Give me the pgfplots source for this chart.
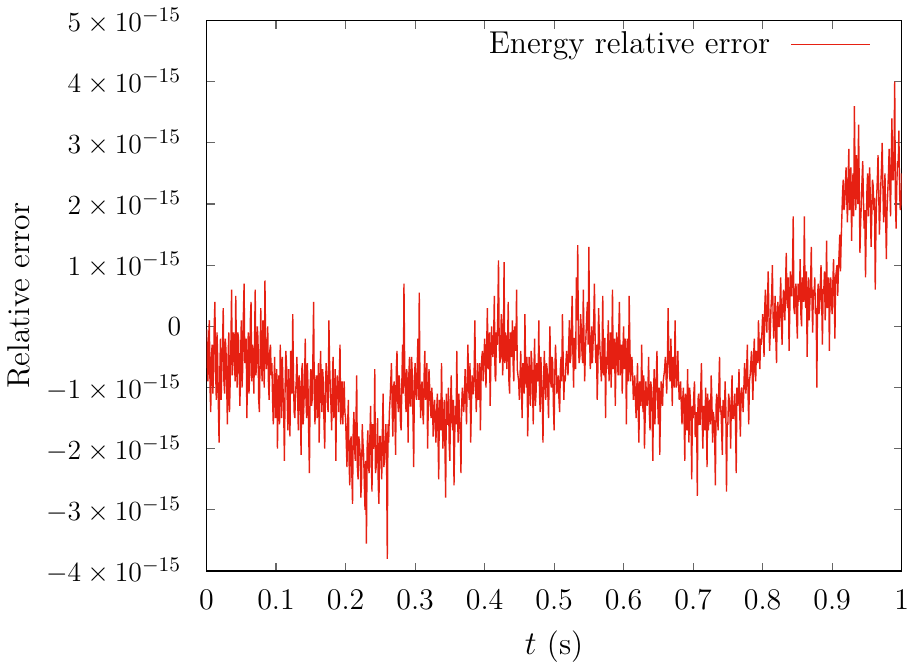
\documentclass[border=0pt]{standalone}
\usepackage{pgfplots}
\usepackage{pgfplotstable}
\pgfplotsset{compat=1.18}
\definecolor{gpred}{RGB}{230,32,18}
\newcommand\lbl{\fontsize{13}{15.6}\selectfont}
\newcommand\txt{\fontsize{13.7}{16.4}\selectfont}

% energy relative error, in units of 1e-15, sampled every 0.001 s
\pgfplotstableread[header=false,row sep=\\]{
-0.05\\ -0.6\\ -0.9\\ -0.2\\ 0.1\\ -1.0\\ -1.4\\ -0.5\\ -0.3\\ -1.1\\ -0.8\\ 0.0\\ 0.4\\ -0.7\\ -1.2\\ -0.1\\ -0.5\\ -1.3\\ -1.9\\ -0.8\\
-0.2\\ -1.2\\ -0.7\\ -0.3\\ 0.3\\ -0.9\\ -1.1\\ -0.2\\ -0.4\\ -1.0\\ -1.6\\ -0.5\\ -0.1\\ -1.4\\ -0.9\\ -0.3\\ 0.6\\ -0.8\\ -0.6\\ -0.1\\
-0.3\\ -0.9\\ 0.5\\ -0.4\\ -1.0\\ -0.1\\ -0.2\\ -0.8\\ -1.3\\ -0.5\\ 0.1\\ -1.0\\ -0.7\\ 0.2\\ 0.7\\ -0.6\\ -0.5\\ -0.2\\ -1.5\\ -0.7\\
-0.1\\ -1.1\\ -0.8\\ 0.1\\ 0.4\\ -0.9\\ -0.3\\ -0.4\\ -1.1\\ -0.3\\ 0.6\\ -0.8\\ -0.6\\ 0.0\\ -0.2\\ -1.2\\ -1.4\\ -0.5\\ 0.3\\ -0.6\\
-0.9\\ 0.1\\ -0.4\\ -1.0\\ 0.75\\ -0.3\\ -0.7\\ -0.5\\ 0.0\\ -0.9\\ -1.2\\ -0.4\\ -0.3\\ -0.8\\
-0.6\\ -1.2\\ -1.6\\ -0.9\\ -0.5\\ -1.5\\ -1.3\\ -0.7\\ -2.0\\ -1.1\\ -0.8\\ -1.6\\ -0.3\\ -0.8\\ -1.5\\ -0.5\\ -1.0\\ -1.4\\ -2.2\\ -1.0\\
-0.4\\ -0.6\\ -1.2\\ -1.7\\ -0.7\\ -1.3\\ -1.8\\ -0.4\\ -0.9\\ -1.1\\ 0.2\\ -0.8\\ -1.4\\ -1.5\\ -1.1\\ -0.9\\
-0.5\\ -1.1\\ -1.7\\ -0.8\\ -0.9\\ -1.4\\ -2.1\\ -0.7\\ -0.6\\ -1.6\\ -1.3\\ -0.9\\ -0.2\\ -1.2\\ -1.5\\ -0.6\\ -1.0\\ -1.8\\ -2.4\\ -1.0\\
-0.7\\ -1.3\\ -1.2\\ -0.5\\ 0.4\\ -1.1\\ -1.6\\ -0.9\\ -0.8\\ -1.5\\ -1.1\\ -0.6\\ -1.9\\ -1.2\\ -0.4\\ -1.0\\ -1.4\\ -0.7\\ -0.9\\ -1.6\\
-2.0\\ -1.1\\ -0.6\\ -0.8\\ -1.3\\ -1.4\\ 0.1\\ -0.6\\ -1.0\\ -1.3\\ -1.7\\ -0.9\\ -0.5\\ -1.5\\ -1.2\\ -0.7\\ -2.2\\ -1.2\\ -0.8\\ -1.0\\
-1.4\\ -0.8\\ -0.3\\ -1.6\\ -1.1\\ -0.9\\ -1.6\\ -1.2\\ -0.9\\ -1.4\\
-1.5\\ -1.9\\ -2.3\\ -1.6\\ -1.2\\ -2.2\\ -2.6\\ -1.9\\ -1.8\\ -2.4\\ -2.9\\ -1.7\\ -1.4\\ -2.0\\ -2.2\\ -1.5\\ -0.8\\ -2.3\\ -2.5\\ -1.8\\
-1.9\\ -2.1\\ -2.8\\ -2.5\\ -1.6\\ -1.9\\ -2.1\\ -2.6\\ -3.0\\ -2.2\\ -3.55\\ -2.0\\ -1.7\\ -2.3\\ -2.4\\ -1.8\\ -1.3\\ -2.2\\ -2.7\\ -1.6\\
-2.0\\ -1.9\\ -0.7\\ -2.4\\ -2.3\\ -2.0\\ -1.5\\ -2.6\\ -2.9\\ -1.8\\ -1.8\\ -2.1\\ -2.5\\ -1.7\\ -1.1\\ -2.3\\ -2.2\\ -1.9\\ -1.6\\ -2.2\\
-3.8\\ -1.6\\ -1.9\\ -1.4\\
-1.2\\ -0.9\\ -0.6\\ -1.3\\ -1.8\\ -1.0\\ -0.9\\ -1.5\\ -2.1\\ -0.7\\ -0.4\\ -1.2\\ -1.4\\ -0.8\\ -1.0\\ -1.6\\ -1.7\\ -0.9\\ -0.3\\ -1.1\\
0.7\\ -0.6\\ -1.1\\ -1.4\\ -0.7\\ -1.0\\ -1.9\\ -0.8\\ -0.5\\ -1.3\\ -1.3\\ -0.5\\ -0.8\\ -1.5\\ -2.3\\ -0.9\\ -0.6\\ -1.1\\ -1.2\\ -0.7\\
-0.2\\ -1.2\\ 0.55\\ -0.9\\ -1.5\\ -1.0\\ -0.9\\ -1.4\\ -1.6\\ -0.8\\ -0.4\\ -1.2\\ -1.1\\ -0.6\\ -2.0\\ -1.3\\ -0.7\\ -1.0\\ -1.3\\ -1.5\\
-1.0\\ -1.2\\ -1.8\\ -1.4\\ -1.2\\ -1.6\\
-1.9\\ -1.4\\ -1.1\\ -1.8\\ -2.5\\ -1.2\\ -1.4\\ -1.7\\ -0.6\\ -1.3\\ -2.0\\ -1.5\\ -1.2\\ -2.0\\ -2.8\\ -1.1\\ -1.6\\ -1.6\\ -1.0\\ -1.9\\
-2.2\\ -1.3\\ -0.8\\ -1.5\\ -1.7\\ -1.2\\ -2.6\\ -1.8\\ -1.3\\ -1.6\\ -0.4\\ -1.4\\ -1.9\\ -1.1\\ -1.5\\ -1.7\\ -2.4\\ -1.3\\ -1.0\\ -1.2\\
-1.4\\ -1.1\\
-0.7\\ -1.2\\ -1.6\\ -0.9\\ -0.3\\ -1.0\\ -1.2\\ -0.6\\ -1.9\\ -1.3\\ -0.8\\ -1.1\\ -1.1\\ -0.7\\ 0.1\\ -0.9\\ -1.4\\ -1.0\\ -0.6\\ -1.2\\
-1.0\\ -0.6\\ -1.7\\ -0.8\\ -0.5\\ -0.4\\ -0.9\\ -0.6\\
-0.2\\ -0.5\\ -1.0\\ -0.3\\ 0.3\\ -0.7\\ -0.6\\ -0.1\\ -1.3\\ -0.6\\ 0.0\\ -0.4\\ -0.5\\ -0.2\\ 0.5\\ -0.8\\ -0.9\\ -0.1\\ -0.3\\ 0.2\\
1.08\\ -0.3\\ -0.6\\ -0.5\\ 0.2\\ 0.0\\ -0.8\\ -0.4\\ 1.05\\ -0.6\\ -0.1\\ -0.2\\ -0.7\\ -0.3\\ 0.4\\ -0.9\\ -1.1\\ -0.1\\ -0.4\\ -0.5\\
0.1\\ -0.6\\ -0.9\\ 0.0\\ -0.2\\ -0.4\\ 0.6\\ -0.7\\ -0.8\\ -0.9\\
-1.2\\ -0.8\\ -0.4\\ -1.0\\ -1.5\\ -0.6\\ -0.7\\ -1.1\\ 0.2\\ -0.7\\ -1.0\\ -0.5\\ -1.8\\ -1.2\\ -0.5\\ -0.9\\ -1.3\\ -0.4\\ -0.6\\ -1.0\\
-1.6\\ -0.7\\ -0.2\\ -1.3\\ -1.1\\ -0.6\\ -0.8\\ -0.9\\ 0.1\\ -1.1\\ -1.4\\ -0.5\\ -0.9\\ -1.2\\ -1.9\\ -0.8\\ -0.4\\ -1.0\\ -1.2\\ -0.6\\
-0.7\\ -1.1\\ -1.5\\ -0.7\\ 0.0\\ -0.9\\ -1.0\\ -0.5\\ -0.6\\ -1.3\\ -1.7\\ -0.8\\ -0.3\\ -0.6\\ -1.1\\ -1.0\\ -0.8\\ -1.2\\ -1.4\\ -0.7\\
-0.5\\ -0.9\\ 0.2\\ -0.5\\ -1.2\\ -0.8\\ -0.9\\ -0.6\\ -0.4\\ -0.6\\
-0.8\\ -0.3\\ 0.1\\ -0.6\\ -0.5\\ 0.0\\ 0.5\\ -0.4\\ -1.0\\ -0.2\\ -0.2\\ -0.7\\ 0.8\\ 0.1\\ 1.33\\ -0.3\\ -0.6\\ -0.5\\ 0.2\\ 0.0\\
-0.4\\ -0.6\\ 0.6\\ -0.2\\ -0.9\\ -0.4\\ -0.1\\ 0.2\\ 0.4\\ -0.3\\ 1.3\\ -0.1\\ -0.7\\ -0.5\\ 0.0\\ -0.6\\ -0.3\\ 0.1\\ 0.7\\ -0.2\\
-0.6\\ -0.3\\ -1.2\\ -0.7\\ 0.3\\ -0.1\\ -0.4\\ -0.6\\ -0.9\\ -0.4\\ 0.5\\ -0.8\\ -0.2\\ -0.2\\ -1.5\\ -0.5\\ -0.7\\ -0.3\\ 0.1\\ -0.9\\
-0.5\\ -0.1\\ -1.0\\ -0.4\\ 0.6\\ -0.7\\ -0.3\\ -0.2\\ -1.3\\ -0.6\\ -0.1\\ -0.5\\ -0.8\\ -0.1\\ 0.4\\ -0.8\\ -0.6\\ -0.3\\ -1.1\\ -0.4\\
0.0\\ -0.7\\ -0.4\\ -0.2\\ -1.6\\ -0.5\\ -0.2\\ -0.9\\ 0.5\\ -0.3\\ -0.9\\ -0.6\\ -0.5\\ -0.8\\ -1.2\\ -1.0\\
-0.8\\ -1.2\\ -1.5\\ -1.0\\ -0.6\\ -1.4\\ -1.9\\ -0.9\\ -1.1\\ -1.3\\ -0.3\\ -1.1\\ -1.4\\ -0.8\\ -2.0\\ -1.5\\ -0.9\\ -1.2\\ -1.3\\ -1.0\\
-0.5\\ -1.4\\ -1.7\\ -0.9\\ -1.0\\ -1.3\\ -2.2\\ -1.1\\ -0.7\\ -1.6\\ -1.2\\ -0.8\\ -0.4\\ -1.2\\ -1.6\\ -1.0\\ -2.1\\ -1.4\\ -0.9\\ -1.1\\
-1.3\\ -0.9\\ -0.8\\ -0.7\\
-0.5\\ -0.8\\ -1.1\\ -0.6\\ 0.3\\ -0.4\\ -0.8\\ -0.9\\ -0.2\\ -0.7\\ -1.3\\ -0.5\\ -0.6\\ -1.0\\ 0.1\\ -0.6\\ -1.0\\ -0.8\\ -0.4\\ -0.9\\
-1.2\\ -1.1\\ -0.9\\ -1.3\\
-1.6\\ -1.2\\ -1.0\\ -1.5\\ -2.2\\ -1.1\\ -1.3\\ -1.7\\ -0.7\\ -1.4\\ -1.9\\ -1.0\\ -1.2\\ -1.6\\ -2.5\\ -1.3\\ -1.5\\ -1.1\\ -0.9\\ -1.8\\
-1.8\\ -1.4\\ -2.77\\ -1.2\\ -1.1\\ -1.6\\ -1.6\\ -1.0\\ -0.6\\ -1.5\\ -2.0\\ -1.3\\ -1.4\\ -1.7\\ -1.0\\ -1.4\\ -2.3\\ -1.1\\ -1.7\\ -1.3\\
-1.2\\ -1.6\\ -0.8\\ -1.2\\ -1.9\\ -1.4\\ -1.5\\ -1.8\\ -2.6\\ -1.3\\ -1.1\\ -1.5\\ -1.7\\ -1.0\\ -0.5\\ -1.4\\ -1.3\\ -1.7\\ -2.1\\ -1.2\\
-1.4\\ -1.5\\ -0.9\\ -1.3\\ -2.7\\ -1.6\\ -1.6\\ -1.1\\ -1.2\\ -1.4\\ -2.0\\ -1.2\\ -0.8\\ -1.5\\ -1.5\\ -1.3\\ -1.1\\ -1.6\\ -2.4\\ -1.0\\
-1.3\\ -1.2\\ -0.7\\ -1.4\\ -1.8\\ -1.1\\ -1.0\\ -1.2\\
-1.4\\ -1.0\\ -0.6\\ -0.9\\ -1.1\\ -0.7\\ -0.3\\ -1.1\\ -1.6\\ -0.9\\ -0.8\\ -0.6\\ -0.4\\ -0.8\\ -1.2\\ -0.5\\ -0.2\\ -0.7\\ -0.9\\ -0.4\\
-0.5\\ -0.6\\ 0.1\\ -0.3\\ -0.7\\ -0.2\\ -0.3\\ -0.1\\
0.2\\ 0.0\\ -0.5\\ 0.3\\ 0.6\\ 0.1\\ -0.1\\ 0.4\\ 0.9\\ 0.2\\ -0.4\\ -0.1\\ 0.3\\ 0.5\\ 1.0\\ 0.2\\ -0.2\\ 0.1\\ 0.5\\ -0.2\\
-0.6\\ 0.3\\ 0.4\\ 0.0\\ 0.0\\ 0.4\\ 0.8\\ 0.1\\ -0.3\\ 0.3\\
0.6\\ 0.3\\ 0.1\\ 0.7\\ 1.2\\ 0.4\\ 0.3\\ 0.8\\ -0.4\\ 0.2\\ 0.9\\ 0.5\\ 0.5\\ 0.9\\ 1.8\\ 0.3\\ 0.2\\ 0.6\\ 0.7\\ 0.1\\
-0.2\\ 0.7\\ 0.4\\ 0.5\\ 1.1\\ 0.2\\ 0.0\\ 0.8\\ 0.6\\ 0.4\\ 1.8\\ 0.6\\ 0.3\\ 0.9\\ -0.5\\ 0.3\\ 0.8\\ 0.1\\ 0.4\\ 0.7\\
1.3\\ 0.4\\ -0.1\\ 0.6\\ 0.5\\ 0.8\\ 0.2\\ 0.3\\ -1.0\\ 0.5\\ 0.7\\ 0.2\\ 0.3\\ 0.7\\ 1.0\\ 0.4\\ -0.3\\ 0.6\\ 0.6\\ 0.9\\
0.1\\ 0.5\\ 1.4\\ 0.3\\ 0.4\\ 0.8\\ -0.4\\ 0.6\\ 0.8\\ 0.4\\ 0.2\\ 0.7\\ 1.1\\ 0.5\\ -0.2\\ 0.8\\ 0.9\\ 1.0\\ 0.5\\ 0.9\\
1.2\\ 1.5\\ 0.9\\ 1.4\\ 1.8\\ 2.2\\ 2.4\\ 1.9\\ 2.0\\ 2.3\\
2.6\\ 2.1\\ 1.7\\ 2.4\\ 2.9\\ 1.9\\ 2.1\\ 2.6\\ 1.4\\ 2.2\\ 2.5\\ 1.8\\ 3.6\\ 2.5\\ 1.9\\ 2.8\\ 2.3\\ 2.0\\ 3.3\\ 2.3\\
1.2\\ 1.7\\ 2.0\\ 2.4\\ 2.7\\ 2.1\\ 1.6\\ 1.9\\ 0.8\\ 1.6\\ 2.2\\ 2.5\\ 1.8\\ 2.2\\ 2.6\\ 2.0\\ 1.3\\ 1.8\\ 2.4\\ 2.3\\
1.9\\ 2.1\\ 0.6\\ 1.6\\ 2.1\\ 2.4\\ 2.8\\ 2.2\\ 1.5\\ 1.9\\ 2.3\\ 2.6\\ 3.0\\ 2.3\\ 1.7\\ 2.0\\ 2.5\\ 1.8\\ 1.1\\ 1.9\\
2.2\\ 2.5\\ 2.9\\ 2.3\\ 1.8\\ 2.7\\ 3.4\\ 2.4\\ 2.4\\ 2.8\\ 4.0\\ 2.1\\ 1.6\\ 2.3\\ 2.7\\ 2.6\\ 3.2\\ 2.2\\ 1.9\\ 2.0\\
2.5\\
}\energy

\begin{document}
\begin{tikzpicture}
\begin{axis}[
    scale only axis,
    width=301.5pt,
    height=238.8pt,
    xmin=0, xmax=1,
    ymin=-4, ymax=5,
    xtick={0,0.1,...,1},
    xticklabels={0,0.1,0.2,0.3,0.4,0.5,0.6,0.7,0.8,0.9,1},
    ytick={-4,-3,...,5},
    yticklabels={$-4\times10^{-15}$,$-3\times10^{-15}$,$-2\times10^{-15}$,$-1\times10^{-15}$,$0$,$1\times10^{-15}$,$2\times10^{-15}$,$3\times10^{-15}$,$4\times10^{-15}$,$5\times10^{-15}$},
    tick align=inside,
    major tick length=3.5pt,
    tick style={gray!80!black, line width=0.5pt},
    axis line style={black, line width=0.5pt},
    tick label style={font=\lbl},
    yticklabel style={xshift=-7.5pt},
    xticklabel style={inner xsep=0pt, yshift=-4.5pt},
    label style={font=\txt},
    xlabel style={yshift=-2pt},
    xlabel={$t$ (s)},
    ylabel={Relative error},
    legend style={draw=none, fill=none, at={(0.966,0.997)}, anchor=north east, font=\txt},
    legend plot pos=right,
    legend cell align=right,
    legend image code/.code={\path[draw=none] (0cm,0cm) -- (0.1cm,0cm); \draw (0.25cm,0cm) -- (1.45cm,0cm);},
]
\addplot[gpred, line width=0.6pt, mark=none] table[x expr=\coordindex*0.001, y index=0] {\energy};
\addlegendentry{Energy relative error}
\end{axis}
\end{tikzpicture}
\end{document}
